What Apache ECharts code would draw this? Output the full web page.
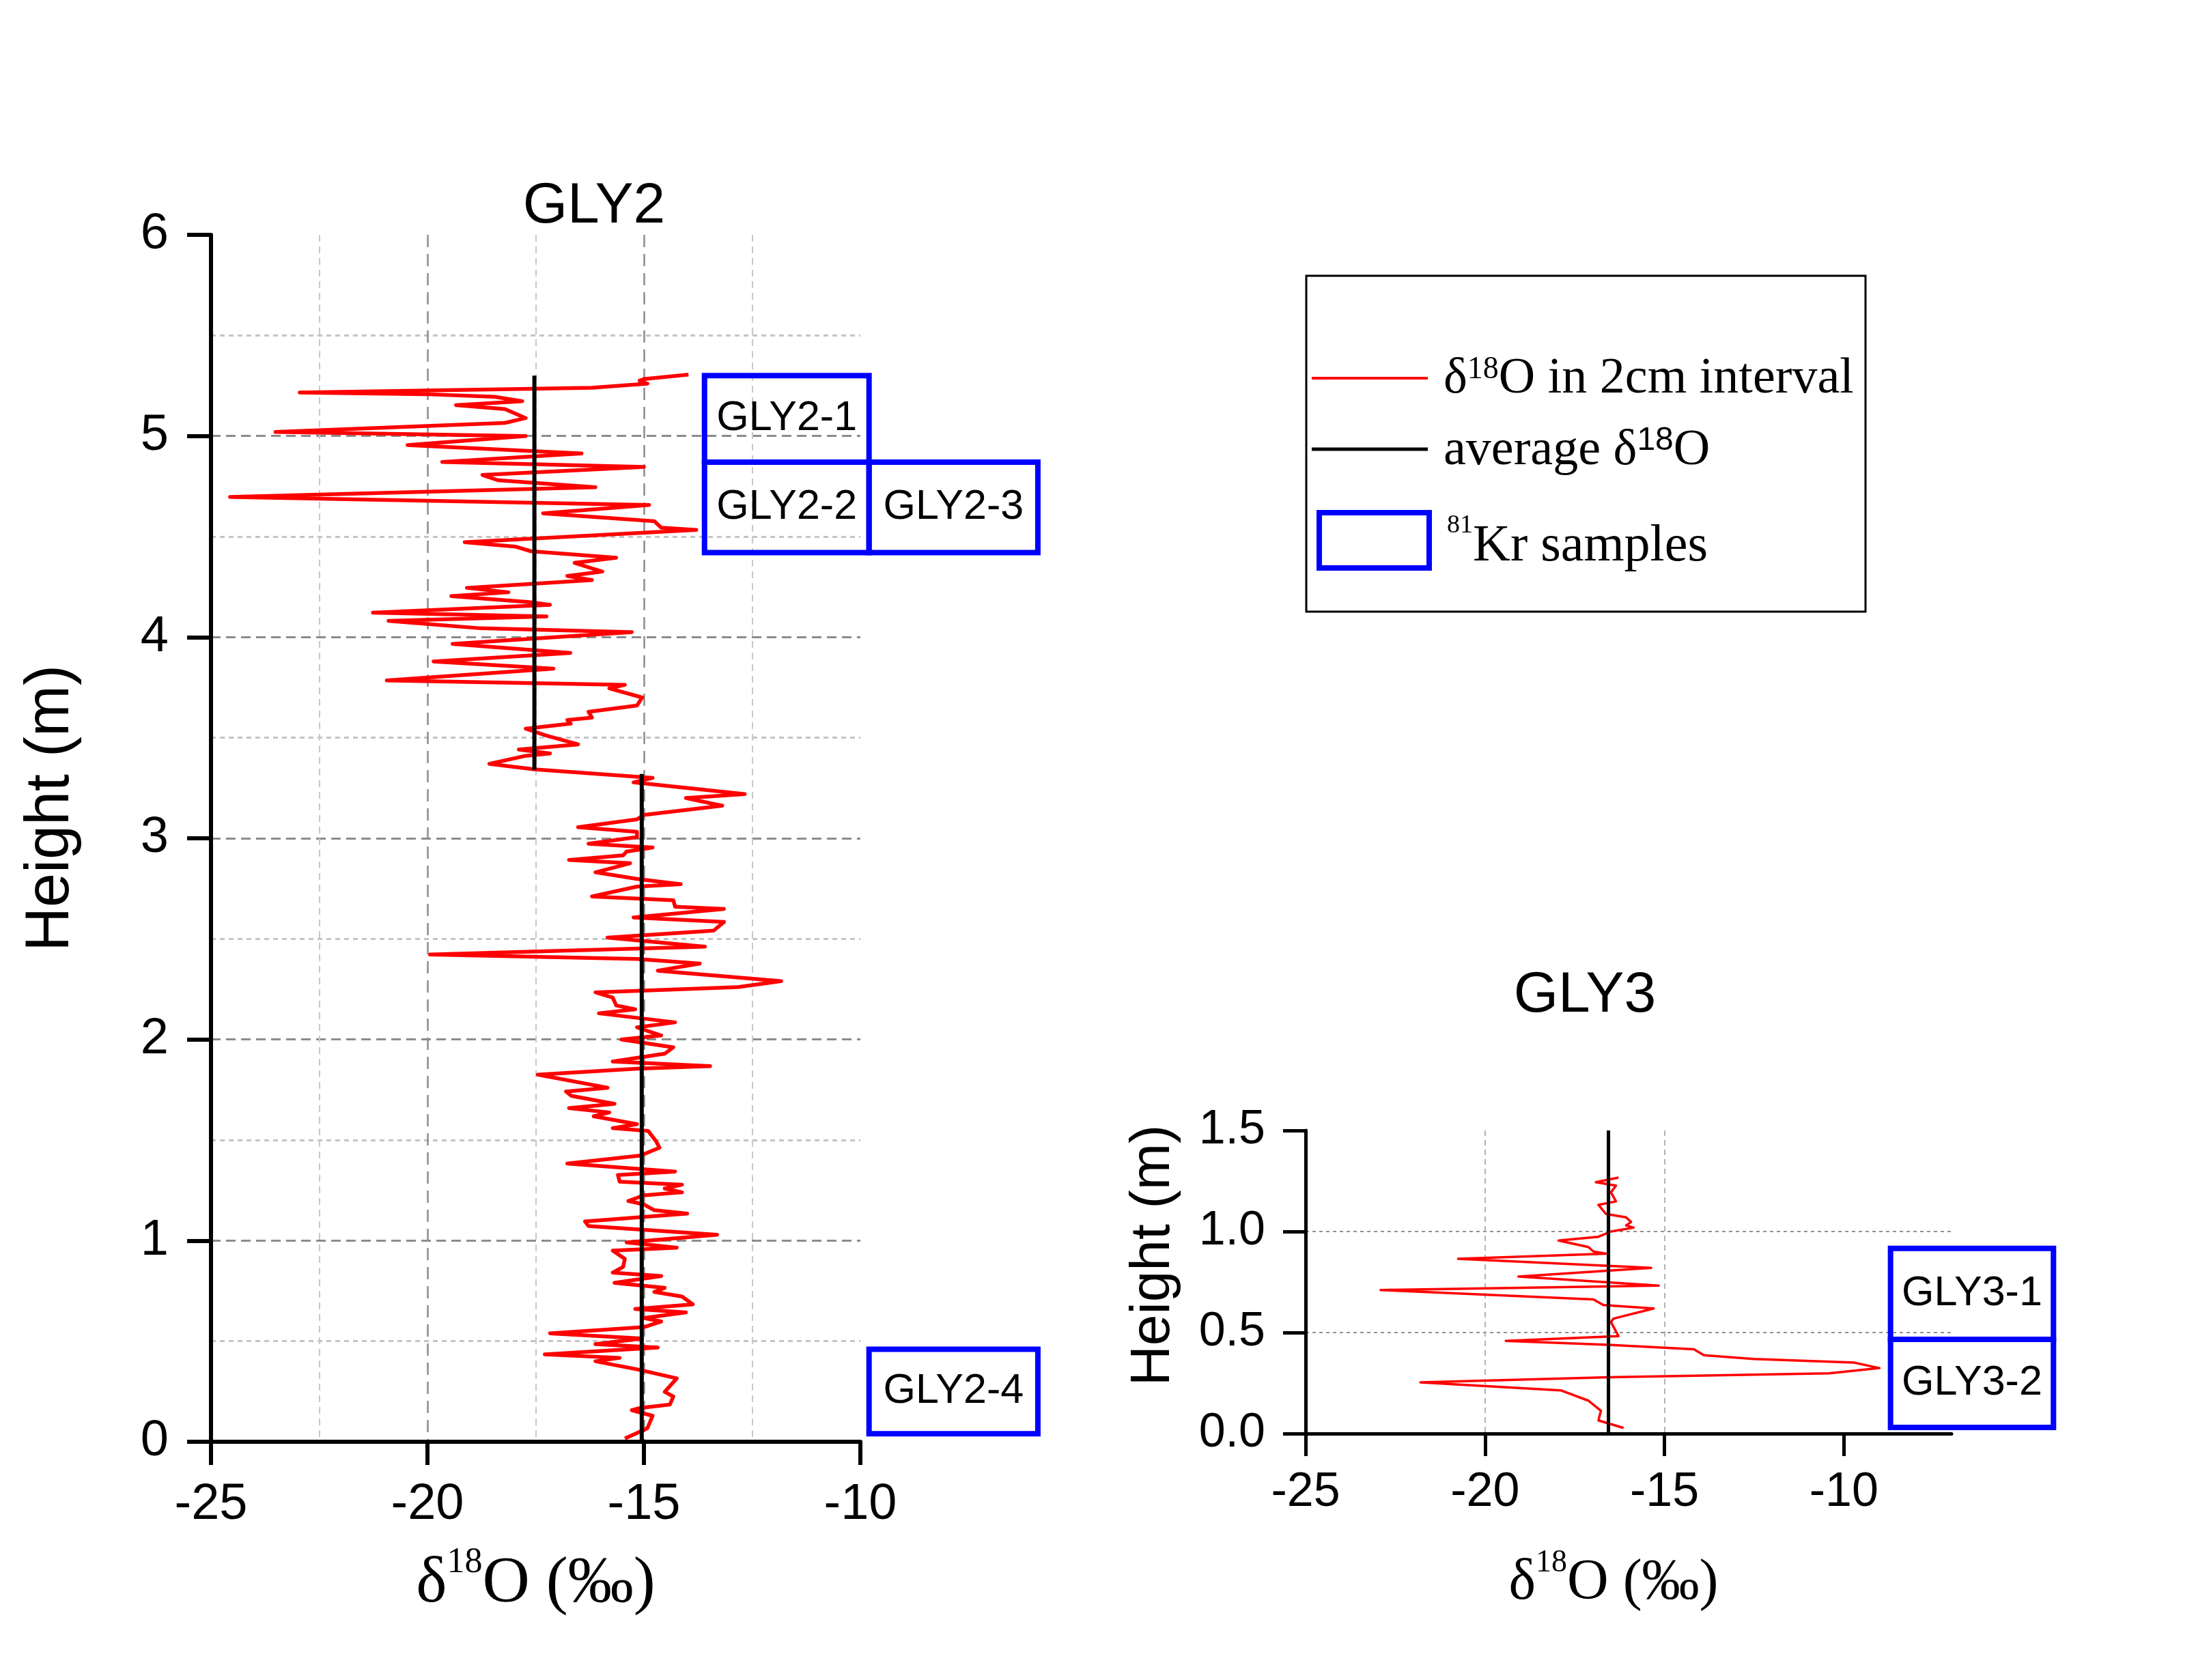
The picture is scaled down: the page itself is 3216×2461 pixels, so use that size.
<!DOCTYPE html>
<html>
<head>
<meta charset="utf-8">
<title>GLY2 / GLY3 δ18O profiles</title>
<script src="https://cdn.jsdelivr.net/npm/echarts@6/dist/echarts.min.js"></script>
<style>
  html, body { margin: 0; padding: 0; background: #fff; }
  #main { width: 3216px; height: 2461px; }
</style>
</head>
<body>
<div id="main"></div>
<script>
// δ18O (‰) against height (m), top of the profile first
var gly2Profile = [
  [-13.97,5.305],[-15.0,5.283],[-15.1,5.275],[-14.92,5.26],[-16.2,5.24],[-17.57,5.235],[-22.95,5.216],[-20.06,5.208],
  [-18.45,5.195],[-17.81,5.173],[-19.34,5.153],[-18.21,5.134],[-17.73,5.089],[-18.21,5.065],[-23.51,5.02],[-17.73,5.0],
  [-20.46,4.955],[-16.44,4.913],[-19.66,4.871],[-15.0,4.846],[-18.73,4.806],[-18.37,4.78],[-16.12,4.745],[-24.56,4.697],
  [-14.88,4.657],[-17.33,4.615],[-14.76,4.576],[-14.6,4.544],[-13.79,4.533],[-19.14,4.472],[-17.97,4.45],[-17.61,4.427],
  [-15.64,4.395],[-16.6,4.369],[-15.96,4.326],[-16.77,4.304],[-16.2,4.284],[-19.09,4.245],[-18.13,4.223],[-19.45,4.204],
  [-17.65,4.174],[-17.17,4.161],[-21.26,4.122],[-17.25,4.103],[-20.9,4.081],[-18.77,4.044],[-15.28,4.025],[-19.42,3.966],
  [-16.7,3.921],[-19.86,3.879],[-17.61,3.85],[-17.09,3.843],[-20.94,3.785],[-15.44,3.763],[-15.8,3.745],[-15.04,3.70],
  [-15.16,3.66],[-16.28,3.629],[-16.2,3.60],[-16.77,3.588],[-16.69,3.57],[-17.73,3.545],[-17.25,3.51],[-16.52,3.467],
  [-17.89,3.441],[-17.17,3.422],[-17.73,3.41],[-18.57,3.37],[-17.53,3.343],[-14.8,3.30],[-15.24,3.278],[-12.67,3.22],
  [-14.03,3.2],[-13.19,3.162],[-15.0,3.116],[-15.16,3.094],[-16.52,3.055],[-15.16,3.032],[-15.16,3.006],[-16.28,2.973],
  [-14.8,2.954],[-15.4,2.934],[-15.48,2.915],[-16.73,2.892],[-15.32,2.876],[-16.12,2.831],[-15.16,2.798],[-14.15,2.772],
  [-15.16,2.76],[-16.2,2.711],[-14.32,2.692],[-14.28,2.66],[-13.15,2.649],[-15.24,2.606],[-13.15,2.584],[-13.39,2.541],
  [-15.84,2.506],[-13.59,2.461],[-19.94,2.422],[-15.16,2.4],[-13.71,2.377],[-14.68,2.342],[-11.83,2.29],[-12.83,2.26],
  [-16.12,2.234],[-15.72,2.208],[-15.64,2.169],[-15.2,2.15],[-16.04,2.13],[-14.28,2.085],[-15.16,2.06],[-14.6,2.02],
  [-15.52,2.0],[-14.32,1.961],[-14.52,1.929],[-15.72,1.89],[-13.47,1.867],[-15.16,1.855],[-17.45,1.825],[-15.84,1.76],
  [-16.8,1.741],[-16.68,1.72],[-15.68,1.68],[-16.73,1.659],[-15.8,1.637],[-16.16,1.618],[-15.16,1.579],[-15.72,1.559],
  [-14.9,1.545],[-14.72,1.494],[-14.64,1.462],[-15.08,1.423],[-16.77,1.383],[-14.28,1.343],[-15.6,1.326],[-15.56,1.293],
  [-14.12,1.278],[-14.52,1.259],[-14.12,1.24],[-15.0,1.225],[-15.36,1.197],[-15.0,1.18],[-14.76,1.151],[-14.0,1.134],
  [-16.36,1.095],[-16.28,1.072],[-13.31,1.029],[-15.4,0.991],[-14.24,0.965],[-15.72,0.95],[-15.44,0.909],[-15.48,0.869],
  [-15.72,0.841],[-14.6,0.824],[-15.68,0.79],[-14.52,0.765],[-14.76,0.745],[-14.12,0.722],[-13.87,0.683],[-15.2,0.66],
  [-14.03,0.643],[-15.0,0.615],[-14.6,0.598],[-15.0,0.57],[-17.17,0.539],[-15.04,0.513],[-16.12,0.485],[-14.68,0.468],
  [-17.29,0.434],[-15.56,0.417],[-16.12,0.40],[-15.16,0.36],[-14.24,0.315],[-14.52,0.248],[-14.32,0.225],[-14.4,0.185],
  [-15.08,0.168],[-15.28,0.157],[-14.8,0.129],[-14.92,0.067],[-15.44,0.016]
];
var gly3Profile = [
  [-16.28,1.267],[-16.91,1.244],[-16.35,1.227],[-16.49,1.194],[-16.35,1.149],[-16.84,1.132],[-16.63,1.087],[-16.07,1.07],
  [-15.93,1.047],[-16.07,1.03],[-15.86,1.019],[-16.49,1.0],[-16.84,0.974],[-17.95,0.955],[-17.12,0.923],[-16.98,0.901],
  [-16.63,0.89],[-20.75,0.865],[-15.37,0.82],[-19.07,0.777],[-15.16,0.732],[-22.91,0.71],[-16.98,0.664],[-16.7,0.636],
  [-15.30,0.619],[-16.42,0.569],[-16.49,0.552],[-16.28,0.482],[-19.42,0.459],[-16.56,0.439],[-14.18,0.417],[-13.9,0.388],
  [-12.51,0.369],[-9.71,0.351],[-9.01,0.324],[-10.41,0.298],[-16.56,0.279],[-21.8,0.253],[-17.89,0.214],[-17.12,0.163],
  [-16.77,0.113],[-16.84,0.065],[-16.14,0.028]
];

// average δ18O and the height span each average covers
var gly2UpperMean = -17.53, gly2UpperSpan = [3.34, 5.30];
var gly2LowerMean = -15.05, gly2LowerSpan = [0, 3.32];
var gly3Mean = -16.56, gly3Span = [0, 1.5];

// 81Kr sample boxes: [x from, x to, height from, height to]
var gly2SampleNames = ['GLY2-1', 'GLY2-2', 'GLY2-3', 'GLY2-4'];
var gly2SampleBounds = [[-13.6, -9.8, 4.87, 5.30], [-13.6, -9.8, 4.42, 4.87], [-9.8, -5.9, 4.42, 4.87], [-9.8, -5.9, 0.04, 0.46]];
var gly3SampleNames = ['GLY3-1', 'GLY3-2'];
var gly3SampleBounds = [[-8.7, -4.16, 0.466, 0.916], [-8.7, -4.16, 0.03, 0.466]];

var gly3XTicks = [-25, -20, -15, -10];

var SANS = '"Liberation Sans", Arial, sans-serif';
var SERIF = '"Liberation Serif", "Times New Roman", serif';

function sampleBox(names) {
  return function (params, api) {
    var a = api.coord([api.value(0), api.value(3)]);
    var b = api.coord([api.value(1), api.value(2)]);
    return {
      type: 'group',
      children: [{
        type: 'rect',
        shape: { x: a[0], y: a[1], width: b[0] - a[0], height: b[1] - a[1] },
        style: { fill: 'none', stroke: '#0000ff', lineWidth: 8 }
      }, {
        type: 'text',
        style: {
          text: names[params.dataIndex], x: (a[0] + b[0]) / 2, y: (a[1] + b[1]) / 2,
          align: 'center', verticalAlign: 'middle', font: '61px ' + SANS, fill: '#000'
        }
      }]
    };
  };
}

function deltaName(size, supSize, lift) {
  return {
    d: { fontFamily: SERIF, fontSize: size, color: '#000' },
    s: { fontFamily: SERIF, fontSize: supSize, color: '#000', padding: [0, 0, lift, 0] }
  };
}

var myChart = echarts.init(document.getElementById('main'));

var option = {
  backgroundColor: '#fff',
  animation: false,
  grid: [
    { left: 309, top: 344, width: 951, height: 1768 },
    { left: 1912, top: 1656, width: 946, height: 444 }
  ],
  xAxis: [{
    gridIndex: 0, type: 'value', min: -25, max: -10, interval: 5,
    name: '{d|δ}{s|18}{d|O (‰)}', nameLocation: 'middle', nameGap: 151,
    nameTextStyle: { rich: deltaName(96, 52, 64) },
    axisLine: { onZero: false, lineStyle: { color: '#000', width: 6 } },
    axisTick: { length: 34, lineStyle: { color: '#000', width: 6 } },
    axisLabel: { fontSize: 74, fontFamily: SANS, color: '#000', margin: 56 },
    splitLine: { show: true, showMinLine: false, showMaxLine: false, lineStyle: { color: '#8c8c8c', width: 2.5, type: [18, 10] } },
    minorTick: { show: false, splitNumber: 2 },
    minorSplitLine: { show: true, lineStyle: { color: '#c8c8c8', width: 2, type: [10, 7] } }
  }, {
    gridIndex: 1, type: 'value', min: -25, max: -7, interval: 5,
    name: '{d|δ}{s|18}{d|O (‰)}', nameLocation: 'middle', nameGap: 167,
    nameTextStyle: { rich: deltaName(84, 46, 60), padding: [0, 44, 0, 0] },
    axisLine: { onZero: false, lineStyle: { color: '#000', width: 5 } },
    axisTick: { customValues: gly3XTicks, length: 33, lineStyle: { color: '#000', width: 5 } },
    axisLabel: { customValues: gly3XTicks, fontSize: 70, fontFamily: SANS, color: '#000', margin: 52 },
    splitLine: { show: true, showMinLine: false, showMaxLine: false, lineStyle: { color: '#b4b4b4', width: 2, type: [8, 6] } }
  }],
  yAxis: [{
    gridIndex: 0, type: 'value', min: 0, max: 6, interval: 1,
    name: 'Height (m)', nameLocation: 'middle', nameGap: 189,
    nameTextStyle: { fontSize: 90, fontFamily: SANS, color: '#000', padding: [0, 0, 0, 88] },
    axisLine: { onZero: false, lineStyle: { color: '#000', width: 6 } },
    axisTick: { length: 35, lineStyle: { color: '#000', width: 6 } },
    axisLabel: { fontSize: 74, fontFamily: SANS, color: '#000', margin: 62 },
    splitLine: { show: true, showMinLine: false, showMaxLine: false, lineStyle: { color: '#8c8c8c', width: 3, type: [14, 8] } },
    minorTick: { show: false, splitNumber: 2 },
    minorSplitLine: { show: true, lineStyle: { color: '#c4c4c4', width: 3, type: [7, 6] } }
  }, {
    gridIndex: 1, type: 'value', min: 0, max: 1.5, interval: 0.5,
    name: 'Height (m)', nameLocation: 'middle', nameGap: 182,
    nameTextStyle: { fontSize: 82, fontFamily: SANS, color: '#000', padding: [0, 0, 0, 78] },
    axisLine: { onZero: false, lineStyle: { color: '#000', width: 5 } },
    axisTick: { length: 33, lineStyle: { color: '#000', width: 5 } },
    axisLabel: { fontSize: 70, fontFamily: SANS, color: '#000', margin: 59, formatter: function (v) { return v.toFixed(1); } },
    splitLine: { show: true, showMinLine: false, showMaxLine: false, lineStyle: { color: '#909090', width: 2, type: [5, 5] } }
  }],
  series: [{
    type: 'line', xAxisIndex: 0, yAxisIndex: 0, data: gly2Profile, symbol: 'none', z: 2,
    lineStyle: { color: '#ff0000', width: 5.5, join: 'round' }
  }, {
    type: 'line', xAxisIndex: 0, yAxisIndex: 0, symbol: 'none', z: 3,
    data: [[gly2UpperMean, gly2UpperSpan[0]], [gly2UpperMean, gly2UpperSpan[1]]],
    lineStyle: { color: '#000', width: 6 }
  }, {
    type: 'line', xAxisIndex: 0, yAxisIndex: 0, symbol: 'none', z: 3,
    data: [[gly2LowerMean, gly2LowerSpan[0]], [gly2LowerMean, gly2LowerSpan[1]]],
    lineStyle: { color: '#000', width: 6 }
  }, {
    type: 'custom', xAxisIndex: 0, yAxisIndex: 0, z: 5, silent: true, clip: false,
    renderItem: sampleBox(gly2SampleNames), data: gly2SampleBounds, encode: { x: [0, 1], y: [2, 3] }
  }, {
    type: 'line', xAxisIndex: 1, yAxisIndex: 1, data: gly3Profile, symbol: 'none', z: 2,
    lineStyle: { color: '#ff0000', width: 3.5, join: 'round' }
  }, {
    type: 'line', xAxisIndex: 1, yAxisIndex: 1, symbol: 'none', z: 3,
    data: [[gly3Mean, gly3Span[0]], [gly3Mean, gly3Span[1]]],
    lineStyle: { color: '#000', width: 5 }
  }, {
    type: 'custom', xAxisIndex: 1, yAxisIndex: 1, z: 5, silent: true, clip: false,
    renderItem: sampleBox(gly3SampleNames), data: gly3SampleBounds, encode: { x: [0, 1], y: [2, 3] }
  }],
  graphic: [
    { type: 'text', x: 870, y: 303, style: { text: 'GLY2', font: '84px ' + SANS, fill: '#000', align: 'center', verticalAlign: 'middle' } },
    { type: 'text', x: 2321, y: 1459, style: { text: 'GLY3', font: '84px ' + SANS, fill: '#000', align: 'center', verticalAlign: 'middle' } },
    // legend
    { type: 'rect', shape: { x: 1913, y: 404, width: 819, height: 492 }, style: { fill: 'none', stroke: '#000', lineWidth: 3 } },
    { type: 'line', shape: { x1: 1921, y1: 554, x2: 2091, y2: 554 }, style: { stroke: '#ff0000', lineWidth: 4 } },
    { type: 'text', x: 2114, y: 556, style: {
      text: '{d|δ}{s|18}{d|O in 2cm interval}', align: 'left', verticalAlign: 'middle',
      rich: { d: { font: '74px ' + SERIF, fill: '#000' }, s: { font: '46px ' + SERIF, fill: '#000', padding: [0, 0, 28, 0] } }
    } },
    { type: 'line', shape: { x1: 1921, y1: 658, x2: 2091, y2: 658 }, style: { stroke: '#000', lineWidth: 5 } },
    { type: 'text', x: 2114, y: 661, style: {
      text: '{d|average δ}{s|18}{d|O}', align: 'left', verticalAlign: 'middle',
      rich: { d: { font: '74px ' + SERIF, fill: '#000' }, s: { font: '48px ' + SANS, fill: '#000', padding: [0, 0, 30, 0] } }
    } },
    { type: 'rect', shape: { x: 1932, y: 751, width: 161, height: 81 }, style: { fill: 'none', stroke: '#0000ff', lineWidth: 8 } },
    { type: 'text', x: 2119, y: 801, style: {
      text: '{s|81}{d|Kr samples}', align: 'left', verticalAlign: 'middle',
      rich: { d: { font: '76px ' + SERIF, fill: '#000' }, s: { font: '38px ' + SERIF, fill: '#000', padding: [0, 0, 62, 0] } }
    } }
  ]
};

myChart.setOption(option);
</script>
</body>
</html>
